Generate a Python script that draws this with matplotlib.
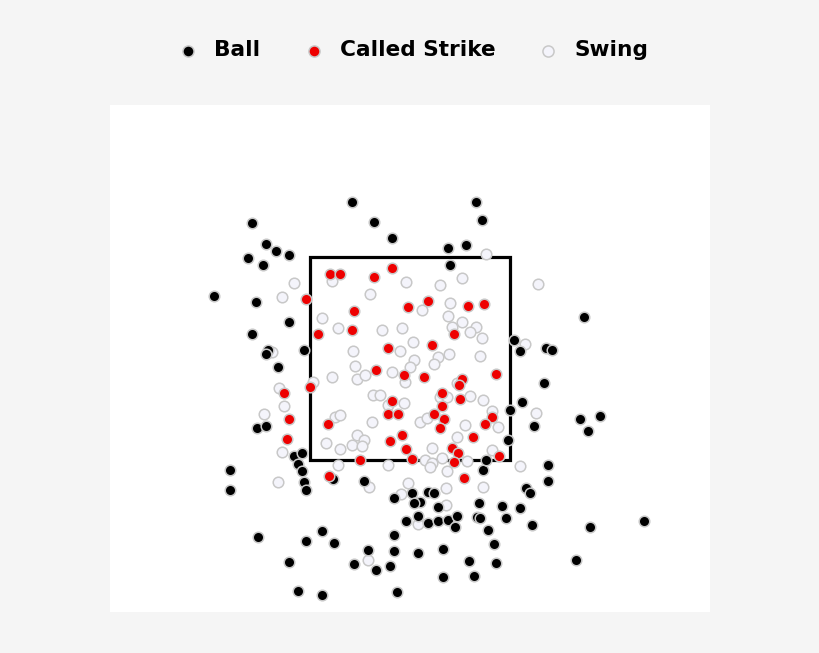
import matplotlib
matplotlib.use("Agg")
import matplotlib.pyplot as plt
from matplotlib.patches import Rectangle

# pitch locations, inches from plate centre (x) and above the ground (z)
ball_x = [-5.8, -3.6, -1.8, 6.6, 7.2, 5.6, 3.8, 4.0, -15.8, -14.4, -13.4, -12.1, -16.2, -14.7,
          -19.6, -15.4, -12.1, -15.8, -14.2, -14.4, -13.2, -10.6, -15.3, -14.4, -18.0, -18.0,
          -11.6, -10.8, -11.2, -10.8, -10.6, -10.4, -7.7, -15.2, -10.4, -8.8, -7.6, -12.1, -5.6,
          -11.2, -8.8, -4.6, 7.3, 7.6, -1.6, 0.2, 1.8, 2.4, 1.0, 0.4, 2.8, 6.9, 9.2, -0.4, 0.8,
          1.8, 2.8, 3.8, 4.7, 4.5, 6.7, 7.0, 9.6, 7.8, -1.6, 8.4, -4.2, -1.6, 0.8, 3.3, -3.4,
          -2.0, 5.9, 8.6, 3.3, 6.4, -1.3, 13.8, 13.8, 11.6, 12.0, 11.0, 12.2, 18.0, 23.4, 16.6,
          17.4, 10.4, 11.0, 13.6, 14.2, 13.4, 11.2, 10.0, 12.4, 17.0, 19.0, 17.8, 9.8]
ball_z = [41.0, 39.0, 37.4, 41.0, 39.2, 36.7, 36.4, 34.7, 38.9, 36.8, 36.1, 35.7, 35.4, 34.7,
          31.6, 31.0, 29.0, 27.8, 26.2, 25.8, 24.5, 26.2, 18.4, 18.6, 14.2, 12.2,
          15.6, 15.9, 14.8, 14.1, 13.0, 12.2, 13.3, 7.5, 7.1, 8.1, 6.9, 5.0, 4.8,
          2.1, 1.7, 13.1, 14.2, 15.2, 11.4, 11.9, 12.0, 11.9, 11.0, 10.9, 10.5, 10.9, 10.6, 9.1, 9.6,
          8.9, 9.1, 9.2, 9.6, 8.5, 9.5, 9.4, 9.4, 8.2, 7.7, 6.8, 6.2, 6.1, 5.9, 6.3, 4.2,
          4.6, 5.1, 4.9, 3.5, 3.6, 2.0, 14.7, 13.1, 12.4, 11.9, 10.4, 8.7, 8.5, 9.1, 5.2,
          29.5, 27.2, 26.1, 26.4, 26.2, 22.9, 21.0, 20.2, 18.6, 19.3, 19.6, 18.1, 17.2]

strike_x = [-8.0, -7.0, -3.6, -1.8, -10.4, -5.6, -5.8, -9.2, -0.2, 1.8, 5.8, 7.4, 4.4, -2.2,
            2.2, -3.4, -0.6, 1.4, 5.2, 4.9, 8.6, 3.2, 5.0, -1.8, -2.2, -1.2, 3.2, 2.4, 3.4,
            3.0, 8.2, 7.5, 6.3, -0.8, -2.0, -0.4, 0.2, 4.2, 4.8, 4.4, 8.9, -5.0, 5.4, -8.1,
            -12.6, -10.0, -12.1, -8.2, -12.3]
strike_z = [33.8, 33.8, 33.5, 34.4, 31.3, 30.1, 28.2, 27.8, 30.5, 31.1, 30.6, 30.8, 27.8, 26.4,
            26.7, 24.2, 23.7, 23.5, 23.3, 22.7, 23.8, 21.9, 21.3, 21.1, 19.8, 19.8, 20.6, 19.8, 19.3,
            18.4, 19.5, 18.8, 17.5, 17.7, 17.1, 16.3, 15.3, 16.4, 15.9, 15.0, 15.6, 15.2, 13.4, 13.6,
            21.9, 22.5, 19.3, 18.8, 17.3]

swing_x = [-11.6, -12.8, -7.8, -8.8, -7.2, 7.6, 5.2, 3.0, -0.4, -4.0, 1.2, 4.0, 3.8, 5.2, 6.6,
           -0.8, -2.8, 12.8, -5.7, -5.5, -5.3, -7.8, -9.7, -13.1, -12.6, -14.6, -7.5, -7.0, -8.4,
           -7.0, -5.8, -5.3, -12.8, -7.2, -13.8, 4.2, 6.0, 7.2, 0.3, -1.0, 2.8, 0.4, 0.0, 2.4,
           3.9, 7.0, -4.5, -1.8, -0.5, 4.7, 6.0, 7.3, 8.2, 8.8, -3.7, -3.0, -0.6, -2.2, -3.8,
           3.0, 3.7, 1.0, 1.7, 5.5, -4.6, -4.8, 4.7, 2.2, 1.5, 2.2, 3.2, 5.7, 8.2, -2.2, 11.5,
           12.6, 11.0, -13.2, 3.7, 7.3, -4.1, -0.2, 3.6, -0.9, 3.6, 0.8, -4.2, 2.0]
swing_z = [32.9, 31.5, 33.1, 29.4, 28.4, 35.8, 33.4, 32.7, 33.0, 31.8, 30.2, 30.9, 29.6, 29.0, 28.5,
           28.4, 28.2, 32.8, 26.1, 24.6, 23.3, 23.5, 23.0, 22.4, 20.6, 19.8, 19.5, 19.7, 16.9,
           16.3, 16.7, 17.7, 16.0, 14.7, 26.0, 28.5, 28.0, 27.4, 27.0, 26.1, 25.5, 25.2, 24.5, 24.8,
           25.8, 25.6, 23.7, 24.0, 23.0, 22.9, 21.6, 21.2, 20.1, 18.5, 21.7, 21.7, 20.9, 20.7, 19.0,
           21.5, 21.5, 19.0, 19.4, 18.7, 17.2, 16.6, 17.5, 16.4, 15.2, 14.9, 15.4, 15.1, 16.2, 14.7, 26.8,
           19.9, 14.6, 13.0, 14.1, 12.5, 12.5, 12.9, 12.4, 11.8, 10.7, 8.8, 5.2, 14.5]

zone_left, zone_right = -10.0, 10.0
zone_bottom, zone_top = 15.2, 35.5

fig = plt.figure(figsize=(8.2, 6.53), dpi=100, facecolor='#f5f5f5')
ax = fig.add_axes([110 / 820, 41 / 653, 600 / 820, 507 / 653])
ax.set_facecolor('white')
ax.set_xlim(-30, 30); ax.set_ylim(0, 50.7)
ax.set_xticks([]); ax.set_yticks([])
for s in ax.spines.values():
    s.set_visible(False)

ax.add_patch(Rectangle((zone_left, zone_bottom), zone_right - zone_left, zone_top - zone_bottom,
                       fill=False, lw=2.3, ec='black', zorder=1))

kw = dict(s=58, linewidths=1.1, edgecolors='#c8c8c8', zorder=2)
h_swing = ax.scatter(swing_x, swing_z, c='#f4f4fb', label='Swing', **kw)
h_ball = ax.scatter(ball_x, ball_z, c='black', label='Ball', **kw)
h_strike = ax.scatter(strike_x, strike_z, c='#ee0000', label='Called Strike', **kw)

fig.legend(handles=[h_ball, h_strike, h_swing], loc='center', bbox_to_anchor=(0.5035, 0.923),
           ncol=3, frameon=False, markerscale=1.05, handlelength=1.0, handletextpad=0.7,
           columnspacing=1.95, prop=dict(family='DejaVu Sans', weight='bold', size=15.6))

fig.savefig('out.png', dpi=100, facecolor=fig.get_facecolor())
